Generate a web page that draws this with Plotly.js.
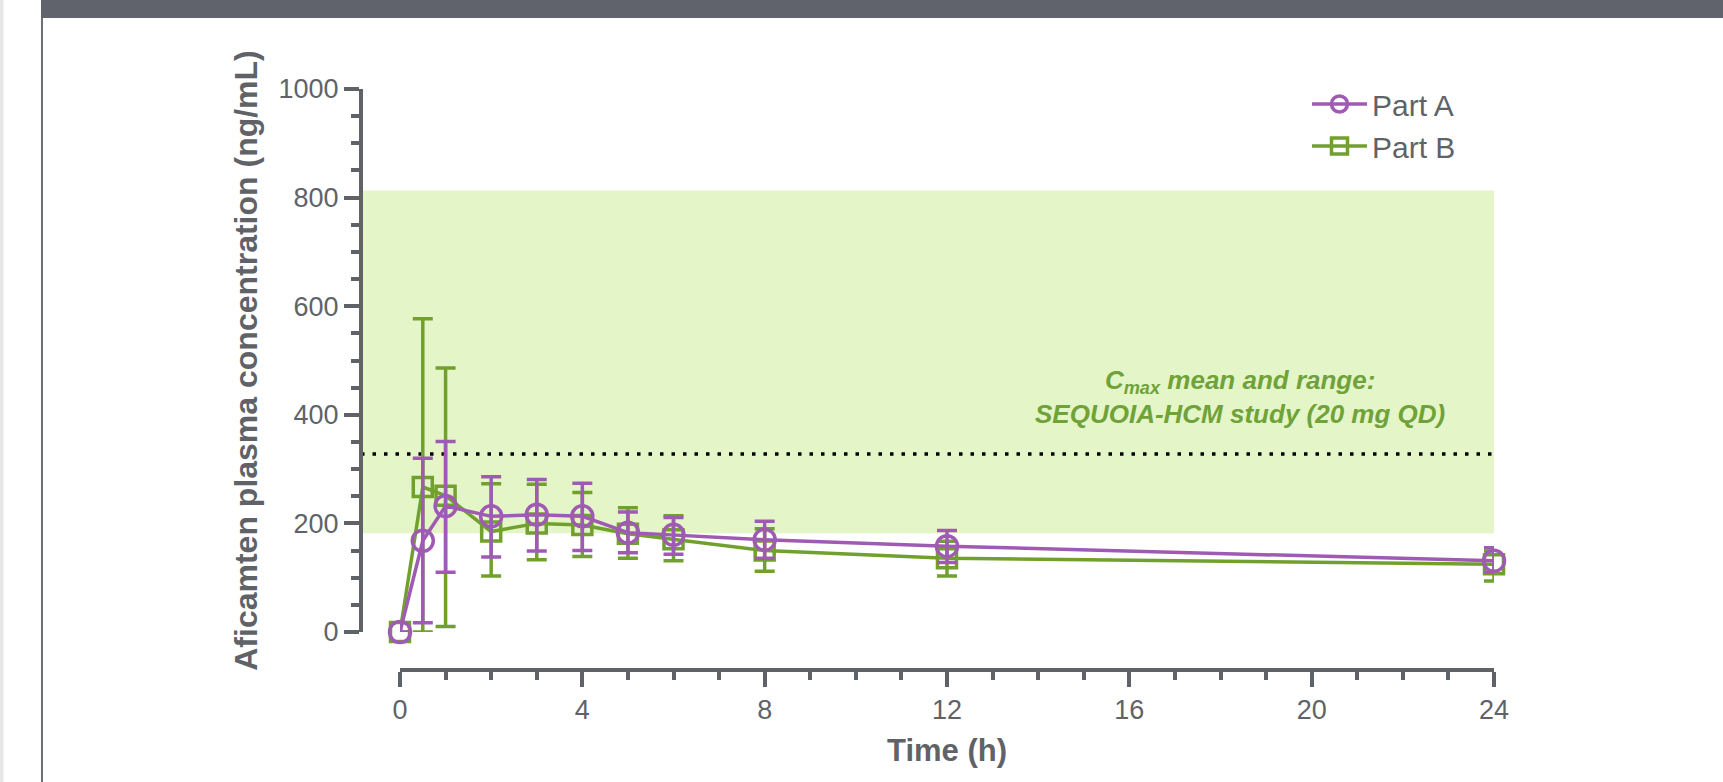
<!DOCTYPE html>
<html>
<head>
<meta charset="utf-8">
<script src="https://cdn.plot.ly/plotly-3.0.1.min.js"></script>
<style>
  html, body { margin: 0; padding: 0; background: #ffffff; }
  #chart { width: 1723px; height: 782px; }
</style>
</head>
<body>
<div id="chart"></div>
<script>
// ---- Data ----
const timeH = [0, 0.5, 1, 2, 3, 4, 5, 6, 8, 12, 24];

const partAMean  = [0, 168, 232, 213, 216, 213, 183, 179, 170, 158, 131];
const partAUpper = [0, 320, 351, 286, 281, 274, 221, 211, 204, 187, 155];
const partALower = [0,  17, 110, 138, 149, 150, 146, 143, 136, 128, 110];

const partBMean  = [0, 267, 251, 185, 200, 197, 181, 171, 150, 136, 125];
const partBUpper = [0, 577, 486, 273, 272, 257, 229, 214, 190, 167, 149];
const partBLower = [0,   0,  10, 103, 133, 139, 136, 131, 112, 103,  94];

const cmaxMean = 328;
const cmaxRangeLow = 182;
const cmaxRangeHigh = 813;

const xTickVals = [0, 4, 8, 12, 16, 20, 24];
const yTickVals = [0, 200, 400, 600, 800, 1000];

const seriesNames = ['Part A', 'Part B'];
const xTitle = 'Time (h)';
const yTitle = 'Aficamten plasma concentration (ng/mL)';
const noteLines = ['C<sub>max</sub> mean and range:', 'SEQUOIA-HCM study (20 mg QD)'];

// ---- Styling ----
const purple = '#9f5bb4';
const green = '#72a02f';
const gray = '#5f6368';
const bandFill = '#e4f5c8';
const textGreen = '#70a23a';
const FONT = 'Liberation Sans, Arial, Helvetica, sans-serif';

const diff = (a, b) => a.map((v, i) => v - b[i]);

const traceB = {
  x: timeH, y: partBMean, name: seriesNames[1], type: 'scatter', mode: 'lines+markers',
  line: {color: green, width: 3.5},
  marker: {symbol: 'square-open', size: 19, color: green, line: {width: 3.5, color: green}},
  error_y: {type: 'data', symmetric: false, array: diff(partBUpper, partBMean),
            arrayminus: diff(partBMean, partBLower), color: green, thickness: 3.5, width: 10},
  cliponaxis: false, legendrank: 2
};
const traceA = {
  x: timeH, y: partAMean, name: seriesNames[0], type: 'scatter', mode: 'lines+markers',
  line: {color: purple, width: 3.5},
  marker: {symbol: 'circle-open', size: 21, color: purple, line: {width: 3.5, color: purple}},
  error_y: {type: 'data', symmetric: false, array: diff(partAUpper, partAMean),
            arrayminus: diff(partAMean, partALower), color: purple, thickness: 3.5, width: 10},
  cliponaxis: false, legendrank: 1
};

// plot area: left 361, right 1494, top 89, bottom 670
const L = 361, R = 1494, T = 89, B = 670;
const W = R - L, H = B - T;
const px = v => (v - L) / W;
const py = v => (B - v) / H;

const layout = {
  width: 1723, height: 782,
  margin: {l: L, r: 1723 - R, t: T, b: 782 - B, pad: 0},
  paper_bgcolor: '#ffffff', plot_bgcolor: 'rgba(0,0,0,0)',
  font: {family: FONT, color: gray, size: 27},
  showlegend: true,
  legend: {
    x: px(1307), y: py(78), xanchor: 'left', yanchor: 'top',
    bgcolor: 'rgba(0,0,0,0)', borderwidth: 0, itemwidth: 55,
    font: {family: FONT, size: 30, color: gray}
  },
  xaxis: {
    domain: [px(400), 1], range: [0, 24], anchor: 'free', position: 0,
    showgrid: false, zeroline: false, showline: true, linecolor: gray, linewidth: 4,
    tickmode: 'array', tickvals: xTickVals, ticktext: xTickVals.map(String),
    ticks: 'outside', ticklen: 15, tickwidth: 4, tickcolor: gray,
    tickfont: {family: FONT, size: 27, color: gray},
    minor: {tickmode: 'linear', tick0: 0, dtick: 1, ticks: 'outside', ticklen: 8, tickwidth: 4, tickcolor: gray, showgrid: false},
    title: {text: '<b>' + xTitle + '</b>', font: {family: FONT, size: 31, color: gray}, standoff: 14}
  },
  yaxis: {
    domain: [py(632), 1], range: [0, 1000], anchor: 'free', position: 0,
    showgrid: false, zeroline: false, showline: true, linecolor: gray, linewidth: 4,
    tickmode: 'array', tickvals: yTickVals, ticktext: yTickVals.map(String),
    ticks: 'outside', ticklen: 15, tickwidth: 4, tickcolor: gray,
    tickfont: {family: FONT, size: 27, color: gray},
    minor: {tickmode: 'linear', tick0: 0, dtick: 50, ticks: 'outside', ticklen: 8, tickwidth: 4, tickcolor: gray, showgrid: false},
    title: {text: '<b>' + yTitle + '</b>', font: {family: FONT, size: 32, color: gray}, standoff: 10}
  },
  shapes: [
    // Cmax range band
    {type: 'rect', xref: 'paper', yref: 'y', x0: 0, x1: 1, y0: cmaxRangeLow, y1: cmaxRangeHigh,
     fillcolor: bandFill, line: {width: 0}, layer: 'below'},
    // Cmax mean dotted line
    {type: 'line', xref: 'paper', yref: 'y', x0: 0, x1: 1, y0: cmaxMean, y1: cmaxMean,
     line: {color: '#000000', width: 3.5, dash: '3.5px,8px'}, layer: 'below'},
    // page frame: top dark bar
    {type: 'rect', xref: 'paper', yref: 'paper', x0: px(41), x1: px(1723), y0: py(18), y1: py(0),
     fillcolor: '#60636b', line: {width: 0}},
    // page frame: left vertical rule
    {type: 'line', xref: 'paper', yref: 'paper', x0: px(42), x1: px(42), y0: py(18), y1: py(782),
     line: {color: '#6b6e75', width: 2}},
    // page frame: left light strip
    {type: 'rect', xref: 'paper', yref: 'paper', x0: px(0), x1: px(3.5), y0: py(782), y1: py(0),
     fillcolor: '#e6e6e6', line: {width: 0}}
  ],
  annotations: [
    {xref: 'x', yref: 'y', x: 18.43, y: 432, xanchor: 'center', yanchor: 'middle', showarrow: false,
     align: 'center', text: noteLines.join('<br>'),
     font: {family: FONT, size: 26, color: textGreen, weight: 'bold', style: 'italic'}}
  ],
  hovermode: false
};

Plotly.newPlot('chart', [traceB, traceA], layout, {displayModeBar: false, staticPlot: true});
</script>
</body>
</html>
